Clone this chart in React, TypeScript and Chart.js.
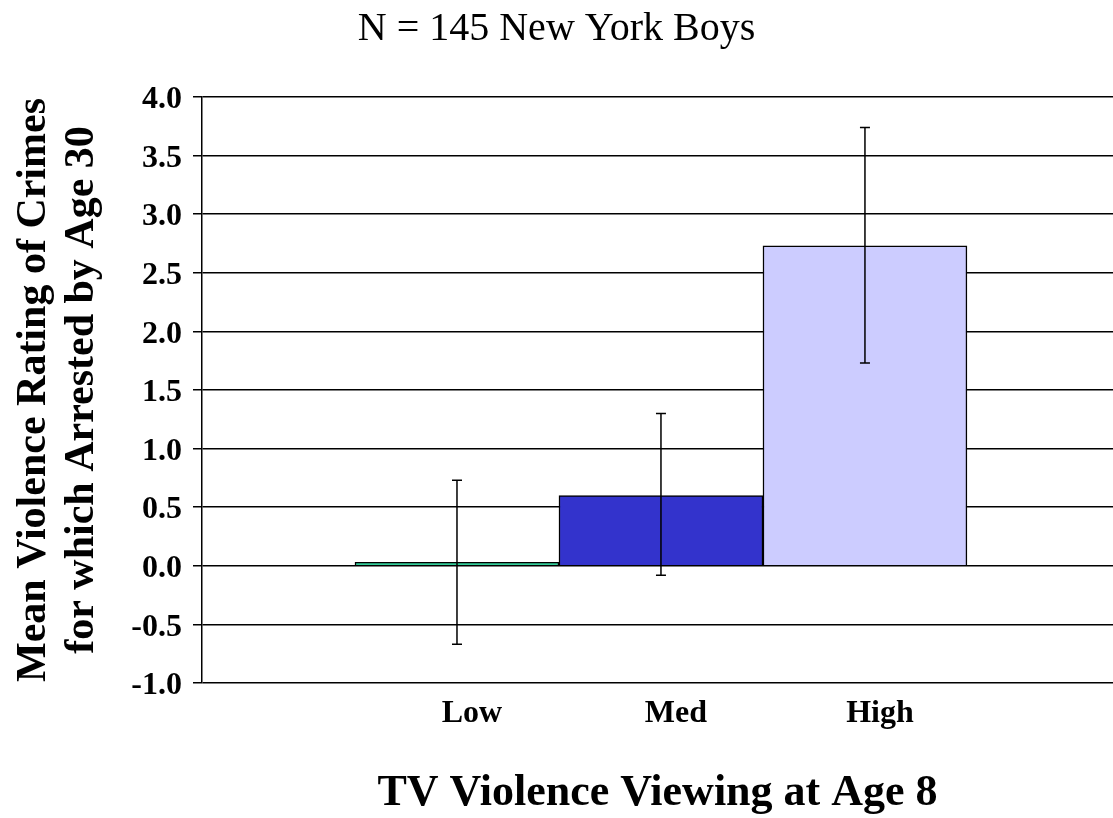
import React, { useEffect, useRef } from 'react';
import { Chart, registerables } from 'chart.js';

Chart.register(...registerables);

const TITLE = 'N = 145 New York Boys';
const X_TITLE = 'TV Violence Viewing at Age 8';
const Y_TITLE = ['Mean Violence Rating of Crimes', 'for which Arrested by Age 30'];

const categories = ['Low', 'Med', 'High'];
const meanValues = [0.03, 0.6, 2.73];
const errorLow = [-0.67, -0.08, 1.73];
const errorHigh = [0.73, 1.3, 3.74];
const barColors = ['#33CC99', '#3333CC', '#CCCCFF'];

const Y_MIN = -1;
const Y_MAX = 4;
const Y_STEP = 0.5;

const FONT = "'Liberation Serif', 'Times New Roman', serif";

const errorBarPlugin = {
  id: 'errorBars',
  afterDatasetsDraw(chart: any) {
    const { ctx } = chart;
    const y = chart.scales.y;
    const meta = chart.getDatasetMeta(0);
    ctx.save();
    ctx.strokeStyle = '#000';
    ctx.lineWidth = 1.5;
    meta.data.forEach((bar: any, i: number) => {
      const px = bar.x;
      const top = y.getPixelForValue(errorHigh[i]);
      const bot = y.getPixelForValue(errorLow[i]);
      ctx.beginPath();
      ctx.moveTo(px, top);
      ctx.lineTo(px, bot);
      ctx.moveTo(px - 5, top);
      ctx.lineTo(px + 5, top);
      ctx.moveTo(px - 5, bot);
      ctx.lineTo(px + 5, bot);
      ctx.stroke();
    });
    ctx.restore();
  },
};

export default function App() {
  const canvasRef = useRef<HTMLCanvasElement | null>(null);

  useEffect(() => {
    document.body.style.margin = '0';
    const canvas = canvasRef.current;
    if (!canvas) return;
    const chart = new Chart(canvas, {
      type: 'bar',
      data: {
        datasets: [
          {
            data: meanValues.map((v, i) => ({ x: i + 1, y: v })),
            backgroundColor: barColors,
            borderColor: '#000',
            borderWidth: 1.5,
            categoryPercentage: 1,
            barPercentage: 1,
          },
        ],
      },
      options: {
        animation: false,
        responsive: true,
        maintainAspectRatio: false,
        layout: { padding: 0 },
        plugins: {
          legend: { display: false },
          tooltip: { enabled: false },
          title: {
            display: true,
            text: TITLE,
            color: '#000',
            font: { family: FONT, size: 40, weight: 'normal', lineHeight: 1.2 },
            padding: { top: 5, bottom: 44 },
          },
        },
        scales: {
          x: {
            type: 'linear',
            min: -0.25,
            max: 4.216,
            offset: false,
            grid: { display: false, drawTicks: false },
            border: { display: false },
            afterBuildTicks: (s: any) => {
              s.ticks = categories.map((_, i) => ({ value: i + 1 }));
            },
            afterFit: (s: any) => {
              s.height = 135;
            },
            ticks: {
              autoSkip: false,
              maxRotation: 0,
              padding: 12,
              labelOffset: 15,
              color: '#000',
              font: { family: FONT, size: 32, weight: 'bold' },
              callback: (v: any) => categories[Number(v) - 1] ?? '',
            },
            title: {
              display: true,
              text: X_TITLE,
              color: '#000',
              font: { family: FONT, size: 44, weight: 'bold', lineHeight: 1 },
              padding: { top: 0, bottom: 2 },
            },
          },
          y: {
            min: Y_MIN,
            max: Y_MAX,
            afterFit: (s: any) => {
              s.width = 202;
            },
            grid: { color: '#000', lineWidth: 1.5, drawTicks: true, tickLength: 9, tickColor: '#000' },
            border: { display: true, color: '#000', width: 1.5 },
            ticks: {
              stepSize: Y_STEP,
              padding: 11,
              labelOffset: 3,
              color: '#000',
              font: { family: FONT, size: 32, weight: 'bold' },
              callback: (v: any) => Number(v).toFixed(1),
            },
            title: {
              display: true,
              text: Y_TITLE,
              color: '#000',
              font: { family: FONT, size: 42, weight: 'bold', lineHeight: 1.14 },
              padding: { top: 10, bottom: 0 },
            },
          },
        },
      } as any,
      plugins: [errorBarPlugin],
    });
    return () => chart.destroy();
  }, []);

  return (
    <div style={{ width: 1113, height: 818, position: 'relative' }}>
      <canvas ref={canvasRef} />
    </div>
  );
}
